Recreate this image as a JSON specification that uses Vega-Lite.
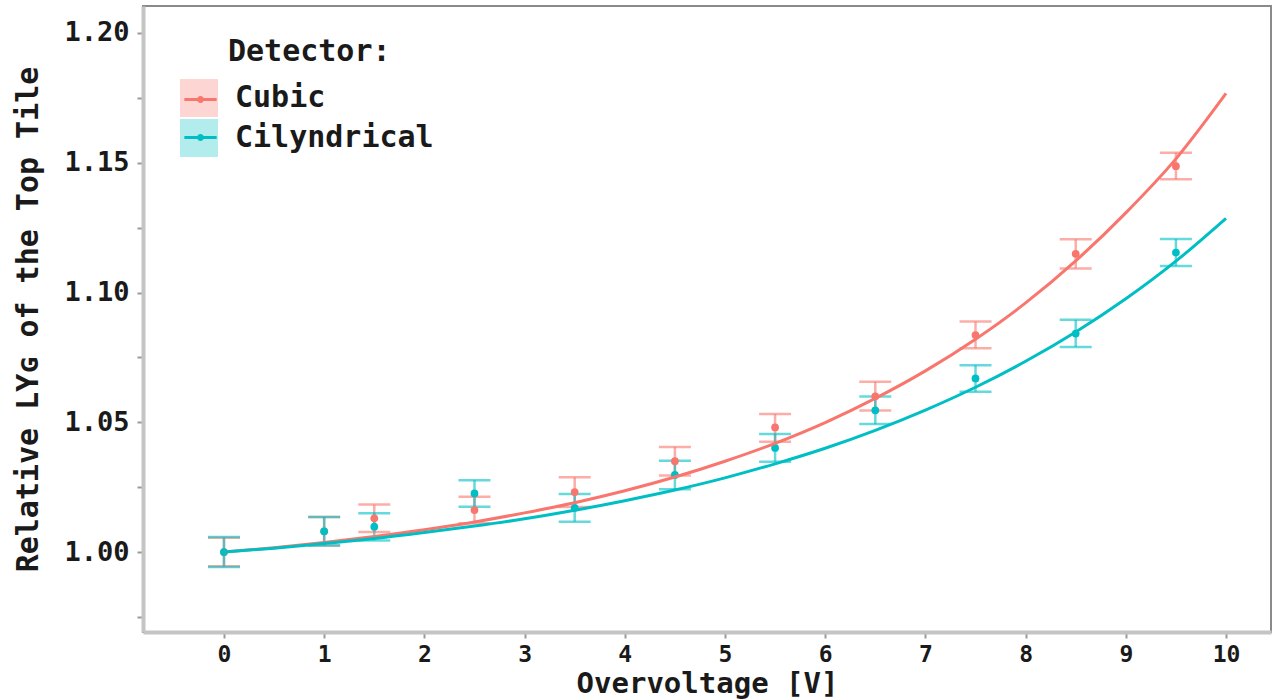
{
  "$schema": "https://vega.github.io/schema/vega-lite/v6.json",
  "width": 1128,
  "height": 626,
  "autosize": {"type": "none"},
  "padding": {"left": 143, "top": 6, "right": 1, "bottom": 68},
  "background": "white",
  "config": {
    "view": {"stroke": "#8a8a8a", "strokeWidth": 2},
    "font": "DejaVu Sans Mono",
    "axis": {
      "labelFont": "DejaVu Sans Mono",
      "labelFontWeight": "bold",
      "labelColor": "#1a1a1a",
      "titleFont": "DejaVu Sans Mono",
      "titleFontWeight": "bold",
      "titleColor": "#1a1a1a",
      "grid": false,
      "domainColor": "#C4C4C4",
      "domainWidth": 4,
      "tickColor": "#9a9a9a",
      "tickWidth": 2,
      "tickSize": 6
    },
    "axisX": {"labelFontSize": 23, "labelPadding": 5, "titleFontSize": 29, "titlePadding": 3},
    "axisY": {"labelFontSize": 27, "labelPadding": 8, "titleFontSize": 30, "titlePadding": 20},
    "legend": {
      "padding": 0,
      "titleFont": "DejaVu Sans Mono",
      "titleFontWeight": "bold",
      "titleFontSize": 30,
      "titleColor": "#1a1a1a",
      "titlePadding": 12,
      "labelFont": "DejaVu Sans Mono",
      "labelFontWeight": "bold",
      "labelFontSize": 30,
      "labelColor": "#1a1a1a",
      "labelOffset": 17,
      "labelLimit": 500,
      "symbolSize": 1444,
      "rowPadding": 2
    }
  },
  "datasets": {
    "pts": [
      {"Detector": "Cubic", "V": 0, "LY": 1.0, "lo": 0.9945, "hi": 1.0055},
      {"Detector": "Cubic", "V": 1, "LY": 1.008, "lo": 1.0025, "hi": 1.0135},
      {"Detector": "Cubic", "V": 1.5, "LY": 1.013, "lo": 1.0077, "hi": 1.0183},
      {"Detector": "Cubic", "V": 2.5, "LY": 1.0162, "lo": 1.0111, "hi": 1.0213},
      {"Detector": "Cubic", "V": 3.5, "LY": 1.0231, "lo": 1.0174, "hi": 1.0288},
      {"Detector": "Cubic", "V": 4.5, "LY": 1.035, "lo": 1.0295, "hi": 1.0405},
      {"Detector": "Cubic", "V": 5.5, "LY": 1.048, "lo": 1.0425, "hi": 1.0532},
      {"Detector": "Cubic", "V": 6.5, "LY": 1.06, "lo": 1.0545, "hi": 1.0656},
      {"Detector": "Cubic", "V": 7.5, "LY": 1.0836, "lo": 1.0785, "hi": 1.0888},
      {"Detector": "Cubic", "V": 8.5, "LY": 1.1149, "lo": 1.1093, "hi": 1.1205},
      {"Detector": "Cubic", "V": 9.5, "LY": 1.1487, "lo": 1.1436, "hi": 1.1539},
      {"Detector": "Cilyndrical", "V": 0, "LY": 1.0, "lo": 0.9942, "hi": 1.0058},
      {"Detector": "Cilyndrical", "V": 1, "LY": 1.008, "lo": 1.0025, "hi": 1.0135},
      {"Detector": "Cilyndrical", "V": 1.5, "LY": 1.0098, "lo": 1.0045, "hi": 1.015},
      {"Detector": "Cilyndrical", "V": 2.5, "LY": 1.0226, "lo": 1.0175, "hi": 1.0277},
      {"Detector": "Cilyndrical", "V": 3.5, "LY": 1.017, "lo": 1.0117, "hi": 1.0224},
      {"Detector": "Cilyndrical", "V": 4.5, "LY": 1.0297, "lo": 1.0242, "hi": 1.0352},
      {"Detector": "Cilyndrical", "V": 5.5, "LY": 1.0401, "lo": 1.0348, "hi": 1.0455},
      {"Detector": "Cilyndrical", "V": 6.5, "LY": 1.0546, "lo": 1.0493, "hi": 1.0599},
      {"Detector": "Cilyndrical", "V": 7.5, "LY": 1.0669, "lo": 1.0618, "hi": 1.072},
      {"Detector": "Cilyndrical", "V": 8.5, "LY": 1.0842, "lo": 1.079, "hi": 1.0895},
      {"Detector": "Cilyndrical", "V": 9.5, "LY": 1.1154, "lo": 1.1102, "hi": 1.1206}
    ],
    "fit": [
      {"Detector": "Cubic", "V": 0, "LY": 1.0},
      {"Detector": "Cubic", "V": 0.5, "LY": 1.0017},
      {"Detector": "Cubic", "V": 1, "LY": 1.0037},
      {"Detector": "Cubic", "V": 1.5, "LY": 1.006},
      {"Detector": "Cubic", "V": 2, "LY": 1.0086},
      {"Detector": "Cubic", "V": 2.5, "LY": 1.0116},
      {"Detector": "Cubic", "V": 3, "LY": 1.0151},
      {"Detector": "Cubic", "V": 3.5, "LY": 1.019},
      {"Detector": "Cubic", "V": 4, "LY": 1.0236},
      {"Detector": "Cubic", "V": 4.5, "LY": 1.0289},
      {"Detector": "Cubic", "V": 5, "LY": 1.035},
      {"Detector": "Cubic", "V": 5.5, "LY": 1.0419},
      {"Detector": "Cubic", "V": 6, "LY": 1.0499},
      {"Detector": "Cubic", "V": 6.5, "LY": 1.0592},
      {"Detector": "Cubic", "V": 7, "LY": 1.0698},
      {"Detector": "Cubic", "V": 7.5, "LY": 1.082},
      {"Detector": "Cubic", "V": 8, "LY": 1.096},
      {"Detector": "Cubic", "V": 8.5, "LY": 1.1122},
      {"Detector": "Cubic", "V": 9, "LY": 1.1307},
      {"Detector": "Cubic", "V": 9.5, "LY": 1.1515},
      {"Detector": "Cubic", "V": 10, "LY": 1.1767},
      {"Detector": "Cilyndrical", "V": 0, "LY": 1.0},
      {"Detector": "Cilyndrical", "V": 0.5, "LY": 1.0015},
      {"Detector": "Cilyndrical", "V": 1, "LY": 1.0033},
      {"Detector": "Cilyndrical", "V": 1.5, "LY": 1.0052},
      {"Detector": "Cilyndrical", "V": 2, "LY": 1.0075},
      {"Detector": "Cilyndrical", "V": 2.5, "LY": 1.01},
      {"Detector": "Cilyndrical", "V": 3, "LY": 1.0128},
      {"Detector": "Cilyndrical", "V": 3.5, "LY": 1.0161},
      {"Detector": "Cilyndrical", "V": 4, "LY": 1.0198},
      {"Detector": "Cilyndrical", "V": 4.5, "LY": 1.0239},
      {"Detector": "Cilyndrical", "V": 5, "LY": 1.0286},
      {"Detector": "Cilyndrical", "V": 5.5, "LY": 1.034},
      {"Detector": "Cilyndrical", "V": 6, "LY": 1.04},
      {"Detector": "Cilyndrical", "V": 6.5, "LY": 1.0469},
      {"Detector": "Cilyndrical", "V": 7, "LY": 1.0547},
      {"Detector": "Cilyndrical", "V": 7.5, "LY": 1.0635},
      {"Detector": "Cilyndrical", "V": 8, "LY": 1.0735},
      {"Detector": "Cilyndrical", "V": 8.5, "LY": 1.0848},
      {"Detector": "Cilyndrical", "V": 9, "LY": 1.0976},
      {"Detector": "Cilyndrical", "V": 9.5, "LY": 1.1121},
      {"Detector": "Cilyndrical", "V": 10, "LY": 1.1286}
    ]
  },
  "encoding": {
    "x": {"field": "V", "type": "quantitative", "scale": {"domain": [-0.808, 10.449], "nice": false, "zero": false},
          "axis": {"values": [0, 1, 2, 3, 4, 5, 6, 7, 8, 9, 10], "title": "Overvoltage [V]"}},
    "y": {"type": "quantitative", "scale": {"domain": [0.9692, 1.2104], "nice": false, "zero": false},
          "axis": {"values": [0.975, 1.0, 1.025, 1.05, 1.075, 1.1, 1.125, 1.15, 1.175, 1.2],
                   "labelExpr": "abs(datum.value * 20 - round(datum.value * 20)) < 0.01 ? format(datum.value, '.2f') : ''",
                   "title": "Relative LYɢ of the Top Tile"}}
  },
  "layer": [
    {
      "data": {"name": "pts"},
      "mark": {"type": "rule", "strokeWidth": 2.5, "opacity": 0.6},
      "encoding": {
        "y": {"field": "lo", "type": "quantitative"},
        "y2": {"field": "hi"},
        "stroke": {"field": "Detector", "type": "nominal", "scale": {"domain": ["Cubic", "Cilyndrical"], "range": ["#F8766D", "#00BFC4"]},
                   "legend": {"title": null, "orient": "none", "legendX": 37, "legendY": 73, "symbolType": "M-0.85,0H0.85M-0.1,0A0.1,0.1 0 1,1 0.1,0A0.1,0.1 0 1,1 -0.1,0Z", "symbolStrokeWidth": 3, "symbolOpacity": 1,
                              "labelExpr": "''"}}
      }
    },
    {
      "data": {"name": "pts"},
      "mark": {"type": "tick", "orient": "horizontal", "size": 32, "thickness": 2.5, "opacity": 0.6},
      "encoding": {
        "y": {"field": "lo", "type": "quantitative"},
        "fill": {"field": "Detector", "type": "nominal", "sort": ["Cubic", "Cilyndrical"], "scale": {"range": ["#F8766D", "#00BFC4"]},
                 "legend": {"title": "Detector:", "orient": "none", "legendX": 37, "legendY": 31, "symbolType": "square", "symbolOpacity": 0.3, "symbolStrokeWidth": 0,
                            "encode": {"title": {"update": {"dx": {"value": 48}}}}}}
      }
    },
    {
      "data": {"name": "pts"},
      "mark": {"type": "tick", "orient": "horizontal", "size": 32, "thickness": 2.5, "opacity": 0.6},
      "encoding": {
        "y": {"field": "hi", "type": "quantitative"},
        "fill": {"field": "Detector", "type": "nominal", "sort": ["Cubic", "Cilyndrical"], "scale": {"range": ["#F8766D", "#00BFC4"]}}
      }
    },
    {
      "data": {"name": "pts"},
      "mark": {"type": "point", "filled": true, "size": 60, "opacity": 1, "shape": "circle"},
      "encoding": {
        "y": {"field": "LY", "type": "quantitative"},
        "fill": {"field": "Detector", "type": "nominal", "sort": ["Cubic", "Cilyndrical"], "scale": {"range": ["#F8766D", "#00BFC4"]}}
      }
    },
    {
      "data": {"name": "fit"},
      "mark": {"type": "line", "strokeWidth": 3, "interpolate": "monotone"},
      "encoding": {
        "y": {"field": "LY", "type": "quantitative"},
        "stroke": {"field": "Detector", "type": "nominal", "scale": {"domain": ["Cubic", "Cilyndrical"], "range": ["#F8766D", "#00BFC4"]}}
      }
    }
  ]
}
